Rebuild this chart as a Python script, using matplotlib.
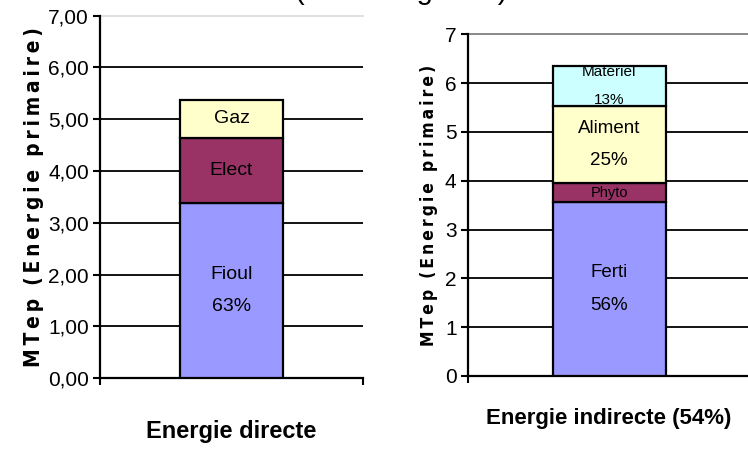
import matplotlib
matplotlib.use("Agg")
import matplotlib.pyplot as plt
from matplotlib import font_manager

# Direct energy (MTep, primary energy)
direct_parts = ["Fioul", "Elect", "Gaz"]
direct_values = [3.39, 1.25, 0.73]
direct_labels = ["Fioul\n63%", "Elect", "Gaz"]

# Indirect energy (MTep, primary energy)
indirect_parts = ["Ferti", "Phyto", "Aliment", "Matériel"]
indirect_values = [3.56, 0.39, 1.58, 0.82]
indirect_labels = ["Ferti\n56%", "Phyto", "Aliment\n25%", "Matériel\n13%"]

left_ticks = [0, 1, 2, 3, 4, 5, 6, 7]
left_ticklabels = ["0,00", "1,00", "2,00", "3,00", "4,00", "5,00", "6,00", "7,00"]
right_ticks = [0, 1, 2, 3, 4, 5, 6, 7]
right_ticklabels = ["0", "1", "2", "3", "4", "5", "6", "7"]

colors = {
    "Fioul": "#9999FF", "Elect": "#993366", "Gaz": "#FFFFCC",
    "Ferti": "#9999FF", "Phyto": "#993366", "Aliment": "#FFFFCC", "Matériel": "#CCFFFF",
}

installed = {f.name for f in font_manager.fontManager.ttflist}
narrow = "Liberation Sans Narrow" if "Liberation Sans Narrow" in installed else "Liberation Sans"
plt.rcParams["font.family"] = [narrow, "DejaVu Sans"]


def spaced(s):
    # widen the letter spacing of the axis title with hair spaces
    return "  ".join("\u200a\u200a".join(word) for word in s.split(" "))


ylab = spaced("MTep (Energie primaire)")


def stacked(ax, parts, values, labels, width, sizes, spacing):
    bottom = 0
    for part, val, lab, fs, ls in zip(parts, values, labels, sizes, spacing):
        ax.bar(0, val, bottom=bottom, width=width, color=colors[part],
               edgecolor="black", linewidth=1.6, zorder=3)
        ax.text(0, bottom + val / 2, lab, ha="center", va="center",
                fontsize=fs, linespacing=ls, zorder=4)
        bottom += val


def style(ax, ticks, ticklabels, tick_fs, top_color):
    ax.set_xlim(-0.5, 0.5)
    ax.set_ylim(0, 7)
    ax.set_yticks(ticks)
    ax.set_yticklabels(ticklabels, fontsize=tick_fs)
    ax.set_xticks([-0.5, 0.5])
    ax.set_xticklabels([])
    ax.tick_params(axis="both", direction="out", length=5, width=1.5, pad=3)
    for y in ticks[1:-1]:
        ax.axhline(y, color="black", linewidth=1.3, zorder=1)
    ax.axhline(ticks[-1], color=top_color, linewidth=1.3, zorder=1, clip_on=False)
    for s in ["top", "right"]:
        ax.spines[s].set_visible(False)
    for s in ["left", "bottom"]:
        ax.spines[s].set_linewidth(1.6)


fig = plt.figure(figsize=(7.48, 4.49), dpi=100)

ax1 = fig.add_axes([0.1337, 0.158, 0.3516, 0.807])
stacked(ax1, direct_parts, direct_values, direct_labels, 0.39,
        [14, 14, 14], [2.2, 1.2, 1.2])
style(ax1, left_ticks, left_ticklabels, 15, "#dddddd")
ax1.set_ylabel(ylab, fontsize=15, fontweight="bold", fontstretch="condensed",
               labelpad=3, family="DejaVu Sans")
ax1.set_xlabel("Energie directe", fontsize=17, fontweight="bold", labelpad=22)

ax2 = fig.add_axes([0.6253, 0.1626, 0.378, 0.761])
stacked(ax2, indirect_parts, indirect_values, indirect_labels, 0.40,
        [13.5, 10.5, 13.5, 11], [2.2, 1.2, 2.1, 2.3])
style(ax2, right_ticks, right_ticklabels, 15, "#808080")
ax2.set_ylabel(ylab, fontsize=12.5, fontweight="bold", fontstretch="condensed",
               labelpad=5, family="DejaVu Sans")
ax2.set_xlabel("Energie indirecte (54%)", fontsize=16, fontweight="bold", labelpad=15)

fig.text(0.537, 1.002, "(source agreste)", ha="center", va="baseline", fontsize=21,
         family="Liberation Sans")

fig.savefig("out.png", dpi=100)
